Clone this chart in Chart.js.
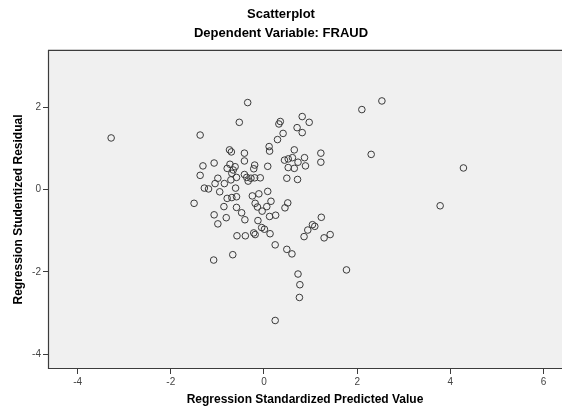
<!DOCTYPE html>
<html>
<head>
<meta charset="utf-8">
<script src="https://cdn.jsdelivr.net/npm/chart.js"></script>
<style>
  body { margin: 0; background: #fff; overflow: hidden; }
</style>
</head>
<body>
<div style="height:410px;width:562px;">
  <canvas id="myChart"></canvas>
</div>

<script>
// Regression Standardized Predicted Value (x) / Regression Studentized Residual (y)
const predicted = [
  -0.35, -0.53, -1.37, 0.35, 0.32, 0.82, 0.97, 0.71, 0.82, 0.41,
  0.29, 0.11, 0.12, -0.74, -0.70, -0.42, 0.65, 1.22, 1.22, 0.87,
  0.44, 0.52, 0.61, 0.73, 0.89, 0.52, 0.65, 0.49, 0.72, 0.08,
  -0.42, -0.20, -0.22, -0.73, -0.62, -0.79, -0.66, -0.69, -0.59, -0.71,
  -0.85, -0.61, -1.07, -1.31, -1.37, -0.99, -1.05, -0.42, -0.37, -0.28,
  -0.20, -0.08, -0.34, -1.28, -1.19, -0.95, 0.08, -0.25, -0.11, -0.79,
  -0.69, -0.59, -1.50, -0.86, -0.59, -0.19, -0.14, 0.06, 0.15, 0.51,
  0.45, -1.07, -0.81, -0.48, -0.04, 0.12, 0.25, 1.23, -0.99, -0.41,
  -0.13, -0.05, 0.01, 0.13, -0.22, -0.19, -0.58, -0.40, 0.24, -0.67,
  -1.08, 0.49, 0.60, 1.04, 1.09, 0.94, 0.86, 1.42, 1.29, 0.73,
  0.77, 0.76, 0.24, 2.53, 2.10, 2.30, 4.28, 3.78, 1.77, -3.28
];
const residual = [
  2.12, 1.64, 1.33, 1.66, 1.60, 1.78, 1.64, 1.51, 1.39, 1.37,
  1.22, 1.05, 0.94, 0.97, 0.92, 0.89, 0.97, 0.89, 0.67, 0.78,
  0.72, 0.75, 0.78, 0.67, 0.58, 0.54, 0.52, 0.28, 0.25, 0.57,
  0.70, 0.60, 0.51, 0.62, 0.56, 0.52, 0.48, 0.40, 0.30, 0.24,
  0.15, 0.04, 0.65, 0.58, 0.35, 0.28, 0.15, 0.37, 0.30, 0.28,
  0.29, 0.29, 0.21, 0.04, 0.02, -0.05, -0.04, -0.15, -0.10, -0.21,
  -0.19, -0.17, -0.33, -0.41, -0.43, -0.33, -0.42, -0.41, -0.28, -0.32,
  -0.44, -0.61, -0.68, -0.56, -0.52, -0.65, -0.62, -0.67, -0.83, -0.73,
  -0.75, -0.92, -0.96, -1.07, -1.05, -1.09, -1.12, -1.12, -1.34, -1.58,
  -1.71, -1.45, -1.56, -0.85, -0.89, -0.98, -1.14, -1.09, -1.17, -2.05,
  -2.31, -2.62, -3.18, 2.16, 1.95, 0.86, 0.53, -0.39, -1.95, 1.26
];
const xTicks = [-4, -2, 0, 2, 4, 6];
const yTicks = [-4, -2, 0, 2];

const points = predicted.map((x, i) => ({ x: x, y: residual[i] }));

// grey plot background + frame (right side is cut off in the original)
const plotFrame = {
  id: 'plotFrame',
  beforeDraw(chart) {
    const { ctx, chartArea: a } = chart;
    ctx.save();
    ctx.fillStyle = '#f0f0f0';
    ctx.fillRect(a.left, a.top, a.right - a.left, a.bottom - a.top);
    ctx.strokeStyle = '#3c3c3c';
    ctx.lineWidth = 1.2;
    ctx.beginPath();
    ctx.moveTo(a.right, a.top + 0.5);
    ctx.lineTo(a.left + 0.5, a.top + 0.5);
    ctx.lineTo(a.left + 0.5, a.bottom - 0.5);
    ctx.lineTo(a.right, a.bottom - 0.5);
    ctx.stroke();
    ctx.restore();
  }
};

const tickFont = { family: 'Arial, "Liberation Sans", sans-serif', size: 10 };
const titleFont = { family: 'Arial, "Liberation Sans", sans-serif', size: 12, weight: 'bold' };

const config = {
  type: 'scatter',
  data: {
    datasets: [{
      data: points,
      pointStyle: 'circle',
      pointRadius: 3.3,
      pointBorderWidth: 1,
      pointBorderColor: '#3a3a3a',
      pointBackgroundColor: 'rgba(0,0,0,0)'
    }]
  },
  options: {
    responsive: true,
    maintainAspectRatio: false,
    animation: false,
    layout: { padding: 0, autoPadding: false },
    plugins: {
      legend: { display: false },
      tooltip: { enabled: false },
      title: {
        display: true,
        text: ['Scatterplot', 'Dependent Variable: FRAUD'],
        color: '#000',
        font: { family: 'Arial, "Liberation Sans", sans-serif', size: 13, weight: 'bold', lineHeight: 1.46 },
        padding: { top: 4.5, bottom: 7.5 }
      }
    },
    scales: {
      x: {
        type: 'linear',
        min: -4.635,
        max: 6.395,
        afterBuildTicks: s => { s.ticks = xTicks.map(v => ({ value: v })); },
        afterFit: s => { s.height = 41; s.paddingLeft = 0; s.paddingRight = 0; },
        grid: { display: true, drawOnChartArea: false, drawTicks: true, tickLength: 5, color: '#3c3c3c' },
        border: { display: false },
        ticks: { color: '#444', font: tickFont, padding: 2, maxRotation: 0 },
        title: {
          display: true,
          text: 'Regression Standardized Predicted Value',
          color: '#000',
          font: titleFont,
          padding: { top: 0, bottom: 3 }
        }
      },
      y: {
        type: 'linear',
        min: -4.36,
        max: 3.40,
        afterBuildTicks: s => { s.ticks = yTicks.map(v => ({ value: v })); },
        afterFit: s => { s.width = 48; s.paddingTop = 0; s.paddingBottom = 0; },
        grid: { display: true, drawOnChartArea: false, drawTicks: true, tickLength: 5, color: '#3c3c3c' },
        border: { display: false },
        ticks: { color: '#444', font: tickFont, padding: 2 },
        title: {
          display: true,
          text: 'Regression Studentized Residual',
          color: '#000',
          font: titleFont,
          padding: { top: 11, bottom: 0 }
        }
      }
    }
  },
  plugins: [plotFrame]
};

var myChart = new Chart(document.getElementById('myChart'), config);
</script>
</body>
</html>
